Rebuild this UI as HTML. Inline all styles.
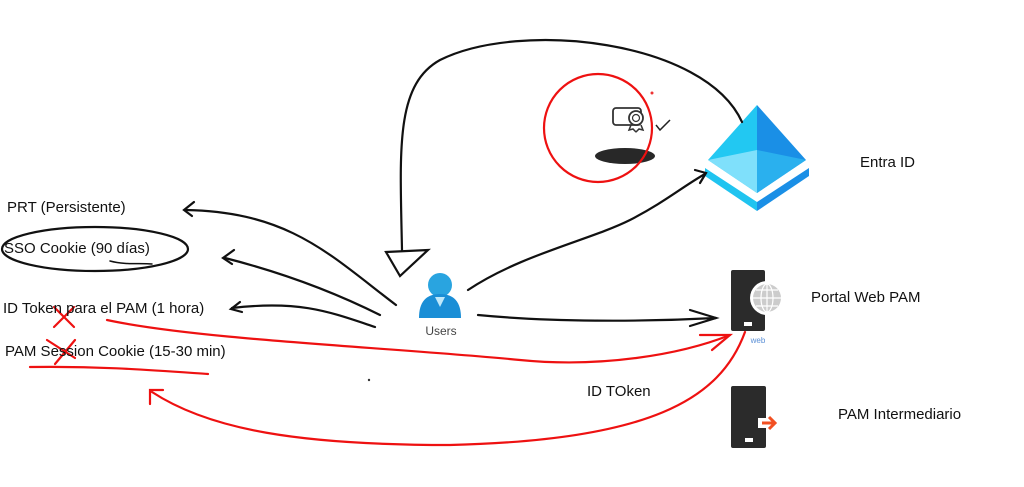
<!DOCTYPE html>
<html><head><meta charset="utf-8"><style>
html,body{margin:0;padding:0;background:#fff;}
body{width:1024px;height:487px;overflow:hidden;position:relative;font-family:"Liberation Sans",sans-serif;}
.t{position:absolute;font-size:15px;color:#111;white-space:nowrap;line-height:1;}
</style></head><body>
<svg width="1024" height="487" style="position:absolute;left:0;top:0">
<polygon points="757,105 708,160 757,193" fill="#22c8f2"/>
<polygon points="757,105 806,160 757,193" fill="#1a8fe6"/>
<polygon points="708,160 757,150 757,193" fill="#7fe0fb"/>
<polygon points="806,160 757,150 757,193" fill="#2ab0ee"/>
<polygon points="705,168 757,202 757,211 705,176" fill="#20c4f0"/>
<polygon points="809,168 757,202 757,211 809,176" fill="#1a8fe6"/>
<rect x="613" y="108" width="28" height="17" rx="3" fill="none" stroke="#333" stroke-width="1.8"/>
<circle cx="636" cy="118" r="7" fill="#fff" stroke="#333" stroke-width="1.8"/>
<circle cx="636" cy="118" r="3.5" fill="none" stroke="#333" stroke-width="1.2"/>
<path d="M631,125 l-2,5 4,-1 3,3 M641,125 l2,5 -4,-1 -3,3" stroke="#333" fill="none" stroke-width="1.5"/>
<path d="M656,125 l4,5 10,-10" stroke="#222" fill="none" stroke-width="1.5"/>
<ellipse cx="625" cy="156" rx="30" ry="8" fill="#111" opacity="0.9"/>
<circle cx="652" cy="93" r="1.5" fill="#e33"/>
<circle cx="440" cy="285" r="12" fill="#29a4e0"/>
<path d="M419,318 q0,-24 21,-24 q21,0 21,24 z" fill="#1a8ed6"/>
<path d="M435,297 l5,10 5,-10" fill="#bfe8fa"/>
<text x="441" y="335" font-size="12" fill="#444" text-anchor="middle" font-family="Liberation Sans">Users</text>
<rect x="731" y="270" width="34" height="61" rx="2" fill="#2b2b2b"/>
<rect x="744" y="322" width="8" height="4" fill="#fff"/>
<circle cx="767" cy="298" r="17" fill="#fff"/>
<circle cx="767" cy="298" r="14" fill="#ccc"/>
<g stroke="#fff" stroke-width="1.2" fill="none"><ellipse cx="767" cy="298" rx="6" ry="14"/><line x1="753" y1="298" x2="781" y2="298"/><line x1="767" y1="284" x2="767" y2="312"/><path d="M756,290 h22 M756,306 h22"/></g>
<text x="758" y="343" font-size="8" fill="#5a8fd6" text-anchor="middle" font-family="Liberation Sans">web</text>
<rect x="731" y="386" width="35" height="62" rx="2" fill="#2b2b2b"/>
<rect x="745" y="438" width="8" height="4" fill="#fff"/>
<rect x="758" y="418" width="10" height="10" fill="#fff"/>
<path d="M762,423 h12 M769,417 l6,6 -6,6" stroke="#f25022" stroke-width="3" fill="none"/>
<g stroke="#111" stroke-width="2.2" fill="none" stroke-linecap="round">
<path d="M742,122 C705,40 520,20 440,60 C395,85 400,150 402,250"/>
<polygon points="386,252 428,250 400,276"/>
<path d="M468,290 C520,255 590,240 630,220 C665,202 685,185 705,174"/>
<path d="M695,170 L706,173 L700,183"/>
<path d="M396,305 C330,255 290,212 186,210"/>
<path d="M194,202 L184,210 L192,216"/>
<path d="M380,315 C330,290 280,272 225,258"/>
<path d="M234,250 L223,258 L232,264"/>
<path d="M375,327 C330,312 300,300 232,308"/>
<path d="M240,302 L231,309 L242,312"/>
<path d="M478,315 C550,322 640,322 716,318"/>
<path d="M690,310 L716,318 L690,326"/>
<ellipse cx="95" cy="249" rx="93" ry="22"/>
<path d="M110,261 C125,265 140,263 152,264" stroke-width="1.5"/>
</g>
<g stroke="#e11" stroke-width="2.2" fill="none" stroke-linecap="round">
<circle cx="598" cy="128" r="54"/>
<path d="M107,320 C200,340 400,348 520,360 C600,368 680,355 730,335"/>
<path d="M700,335 L730,335 L712,350"/>
<path d="M30,367 C100,366 150,370 208,374"/>
<path d="M745,332 C720,400 650,440 450,445 C300,445 210,430 152,392"/>
<path d="M150,404 L150,390 L163,390"/>
<path d="M54,307 L74,327 M74,307 L54,327"/>
<path d="M47,340 L75,358 M75,340 L55,364"/>
</g>
<circle cx="369" cy="380" r="1.2" fill="#333"/>
</svg>
<div class="t" style="left:7px;top:200px">PRT (Persistente)</div>
<div class="t" style="left:4px;top:241px">SSO Cookie (90 días)</div>
<div class="t" style="left:3px;top:301px">ID Token para el PAM (1 hora)</div>
<div class="t" style="left:5px;top:344px">PAM Session Cookie (15-30 min)</div>
<div class="t" style="left:860px;top:155px">Entra ID</div>
<div class="t" style="left:811px;top:290px">Portal Web PAM</div>
<div class="t" style="left:587px;top:384px">ID TOken</div>
<div class="t" style="left:838px;top:407px">PAM Intermediario</div>
</body></html>
